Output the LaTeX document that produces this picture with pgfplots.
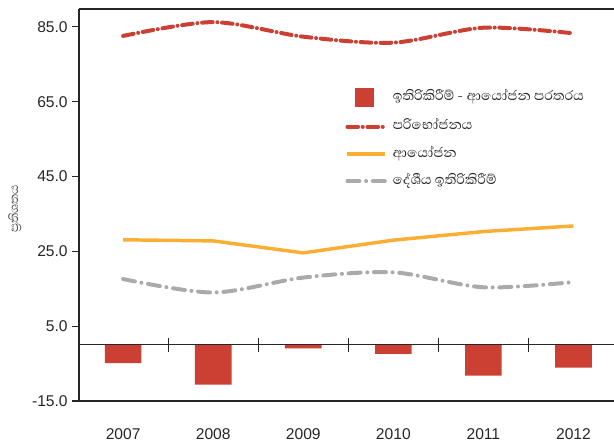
\documentclass[border=0pt]{standalone}
\usepackage{fontspec}
\setmainfont{Liberation Sans}
\newfontfamily\sinhfont[Script=Sinhala]{Abhaya Libre}
\usepackage{pgfplots}
\pgfplotsset{compat=1.18}
\definecolor{cRed}{RGB}{204,64,52}
\definecolor{cOrange}{RGB}{250,175,52}
\definecolor{cGray}{RGB}{170,170,172}
\pgfplotsset{
  linelegend/.style={legend image code/.code={\draw[##1] (0pt,0pt) -- (28.5pt,0pt);}},
  barlegend/.style={legend image code/.code={\fill[cRed] (6pt,-7pt) rectangle (20pt,7pt);}},
}
\begin{document}
\begin{tikzpicture}
\begin{axis}[
  scale only axis, width=401.25pt, height=294pt,
  xmin=-0.49, xmax=5.45, ymin=-15, ymax=89.8,
  axis x line=box, axis y line=left,
  axis line style={-, line width=0.8pt, black!85},
  ytick={-15,5,25,45,65,85},
  ytick pos=left, tick align=outside,
  y tick style={line width=0.8pt, black!85},
  major tick length=5pt,
  /pgf/number format/.cd, fixed, fixed zerofill, precision=1, assume math mode=true,
  /pgfplots/.cd,
  xtick={0,1,2,3,4,5},
  xticklabels={2007,2008,2009,2010,2011,2012},
  x tick style={draw=none},
  tick label style={font=\fontsize{11.7}{14}\selectfont, color=black!85},
  xticklabel style={yshift=-12pt},
  ylabel={\sinhfont ප්‍රතිශතය},
  ylabel style={at={(axis description cs:-0.12,0.49)}, anchor=center, font=\fontsize{11.5}{13}\selectfont, color=black!70},
  legend style={at={(axis description cs:0.49,0.806)}, anchor=north west, draw=none, fill=none,
    nodes={inner sep=0pt, text height=8pt, text depth=3pt, font=\fontsize{13}{15}\selectfont\sinhfont, color=black!85},
    row sep=9.5pt, column sep=4pt},
  legend cell align=left,
]
\addplot[ybar, bar width=27.5pt, fill=cRed, draw=none, barlegend]
  coordinates {(0,-4.9) (1,-10.6) (2,-0.9) (3,-2.4) (4,-8.2) (5,-6.1)};
\addlegendentry{ඉතිරිකිරීම් - ආයෝජන පරතරය}
\addplot[cRed, line width=3pt, smooth, dash pattern=on 8pt off 3.5pt on 0.01pt off 3.5pt, line cap=round, linelegend]
  coordinates {(0,82.6) (1,86.3) (2,82.4) (3,80.8) (4,84.8) (5,83.3)};
\addlegendentry{පරිභෝජනය}
\addplot[cOrange, line width=2.6pt, linelegend]
  coordinates {(0,28.1) (1,27.8) (2,24.6) (3,28.0) (4,30.3) (5,31.8)};
\addlegendentry{ආයෝජන}
\addplot[cGray, line width=3pt, smooth, dash pattern=on 9pt off 5pt on 0.01pt off 5pt, line cap=round, linelegend]
  coordinates {(0,17.6) (1,14.0) (2,18.0) (3,19.4) (4,15.4) (5,16.8)};
\addlegendentry{දේශීය ඉතිරිකිරීම්}
\draw[black!85, line width=0.8pt] (axis cs:-0.49,0) -- (axis cs:5.45,0);
\pgfplotsinvokeforeach{0.5,1.5,2.5,3.5,4.5}{
  \draw[black!85, line width=0.7pt] ([yshift=-5pt]axis cs:#1,0) -- ([yshift=5pt]axis cs:#1,0);
}
\coordinate (sw) at (rel axis cs:0,0);
\coordinate (ne) at (rel axis cs:1,1);
\end{axis}
\pgfresetboundingbox
\path ([shift={(-59.25pt,-31.5pt)}]sw) rectangle ([shift={(0pt,6.75pt)}]ne);
\end{tikzpicture}
\end{document}
